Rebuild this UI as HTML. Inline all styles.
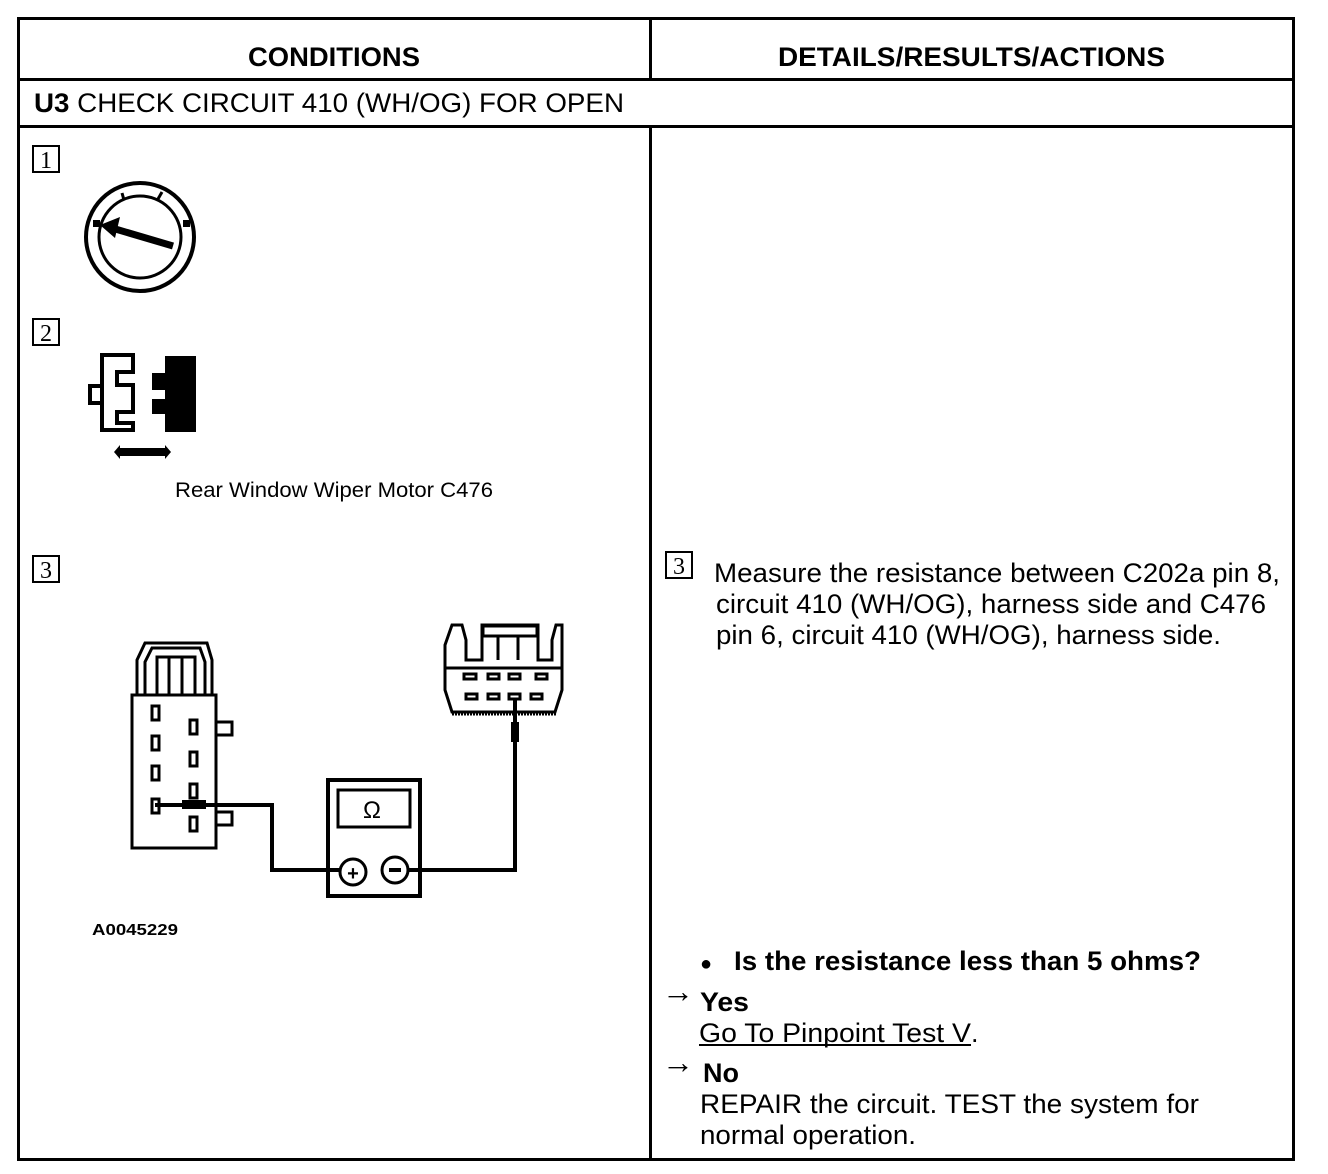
<!DOCTYPE html>
<html><head><meta charset="utf-8"><style>html,body{margin:0;padding:0;background:#fff}svg{display:block}</style></head>
<body>
<svg width="1328" height="1174" viewBox="0 0 1328 1174" xmlns="http://www.w3.org/2000/svg" font-family="Liberation Sans, Arial, sans-serif">
<rect width="1328" height="1174" fill="#fff"/>
<g stroke="#000" stroke-width="3" fill="none">
<rect x="18.5" y="18.5" width="1275" height="1141"/>
<line x1="18" y1="79.5" x2="1294" y2="79.5"/>
<line x1="18" y1="126.5" x2="1294" y2="126.5"/>
<line x1="650.5" y1="18" x2="650.5" y2="79"/>
<line x1="650.5" y1="126" x2="650.5" y2="1160"/>
</g>
<g font-size="27" fill="#000">
<text x="248" y="66" font-weight="bold" textLength="172" lengthAdjust="spacingAndGlyphs">CONDITIONS</text>
<text x="778" y="66" font-weight="bold" textLength="387" lengthAdjust="spacingAndGlyphs">DETAILS/RESULTS/ACTIONS</text>
<text x="34" y="112" textLength="590" lengthAdjust="spacingAndGlyphs"><tspan font-weight="bold">U3</tspan> CHECK CIRCUIT 410 (WH/OG) FOR OPEN</text>
<text x="714" y="582" textLength="566" lengthAdjust="spacingAndGlyphs">Measure the resistance between C202a pin 8,</text>
<text x="716" y="613" textLength="550" lengthAdjust="spacingAndGlyphs">circuit 410 (WH/OG), harness side and C476</text>
<text x="716" y="644" textLength="505" lengthAdjust="spacingAndGlyphs">pin 6, circuit 410 (WH/OG), harness side.</text>
<text x="700" y="970" font-size="20">●</text>
<text x="734" y="970" font-weight="bold" textLength="467" lengthAdjust="spacingAndGlyphs">Is the resistance less than 5 ohms?</text>
<text x="662" y="1002" font-size="32">→</text>
<text x="700" y="1011" font-weight="bold" textLength="49" lengthAdjust="spacingAndGlyphs">Yes</text>
<text x="699" y="1042" textLength="272" lengthAdjust="spacingAndGlyphs">Go To Pinpoint Test V</text>
<text x="971" y="1042">.</text>
<text x="662" y="1073" font-size="32">→</text>
<text x="703" y="1082" font-weight="bold" textLength="36" lengthAdjust="spacingAndGlyphs">No</text>
<text x="700" y="1113" textLength="499" lengthAdjust="spacingAndGlyphs">REPAIR the circuit. TEST the system for</text>
<text x="700" y="1144" textLength="216" lengthAdjust="spacingAndGlyphs">normal operation.</text>
<text x="175" y="497" font-size="21" textLength="318" lengthAdjust="spacingAndGlyphs">Rear Window Wiper Motor C476</text>
<text x="92" y="935" font-size="16" font-weight="bold" textLength="86" lengthAdjust="spacingAndGlyphs">A0045229</text>
</g>
<line x1="699" y1="1045" x2="971" y2="1045" stroke="#000" stroke-width="2"/>
<g stroke="#000" stroke-width="2" fill="none">
<rect x="33" y="146" width="26" height="26"/>
<rect x="33" y="319" width="26" height="26"/>
<rect x="33" y="556" width="26" height="26"/>
<rect x="666" y="552" width="26" height="26"/>
</g>
<g font-size="24" fill="#000" font-family="Liberation Serif, serif" text-anchor="middle">
<text x="46" y="168">1</text><text x="46" y="341">2</text><text x="46" y="578">3</text><text x="679" y="574">3</text>
</g>
<!-- ignition -->
<g stroke="#000" fill="none">
<circle cx="140" cy="237" r="54" stroke-width="4"/>
<circle cx="140" cy="237" r="41" stroke-width="3"/>
<line x1="173" y1="246" x2="112" y2="228" stroke-width="7"/>
<line x1="122" y1="193" x2="124" y2="200" stroke-width="3"/>
<line x1="162" y1="192" x2="158" y2="199" stroke-width="3"/>
</g>
<polygon points="100,225 120,217 115,238" fill="#000"/>
<rect x="93" y="220" width="7" height="7" fill="#000"/>
<rect x="183" y="220" width="7" height="7" fill="#000"/>
<!-- connector 2 -->
<g stroke="#000" stroke-width="4" fill="none">
<path d="M102,355 H133 V372 H117 V385 H133 V412 H117 V423 H133 V430 H102 Z"/>
<path d="M102,386 H90 V403 H102"/>
</g>
<path d="M165,356 H196 V432 H165 V414 H152 V399 H165 V390 H152 V373 H165 Z" fill="#000"/>
<path d="M114,452 L120,445 V459 Z M171,452 L165,445 V459 Z" fill="#000"/>
<rect x="120" y="448" width="45" height="8" fill="#000"/>
<!-- connector left -->
<g stroke="#000" stroke-width="3" fill="none">
<path d="M132,695 V848 H216 V695 Z"/>
<path d="M137,695 V660 L145,643 H207 L212,660 V695"/>
<path d="M145,695 V662 L152,648 H200 L205,662 V695"/>
<path d="M157,695 V657 H195 V695 M169,657 V695 M182,657 V695"/>
<rect x="152" y="706" width="7" height="14"/>
<rect x="152" y="736" width="7" height="14"/>
<rect x="152" y="766" width="7" height="14"/>
<rect x="152" y="799" width="7" height="14"/>
<rect x="190" y="720" width="7" height="14"/>
<rect x="190" y="752" width="7" height="14"/>
<rect x="190" y="784" width="7" height="14"/>
<rect x="190" y="817" width="7" height="14"/>
<rect x="216" y="722" width="16" height="13"/>
<rect x="216" y="812" width="16" height="13"/>
</g>
<!-- right connector -->
<g stroke="#000" stroke-width="3" fill="none">
<path d="M445,690 V645 L452,625 H462 L466,640 V660 H482 V625 H538 V660 H552 V640 L556,625 H562 V690 L555,712 H452 Z"/>
<rect x="483" y="626" width="54" height="10"/>
<line x1="498" y1="636" x2="498" y2="660"/><line x1="518" y1="636" x2="518" y2="660"/>
<line x1="446" y1="668" x2="562" y2="668"/>
<rect x="464" y="674" width="12" height="5"/><rect x="488" y="674" width="11" height="5"/><rect x="509" y="674" width="11" height="5"/><rect x="536" y="674" width="11" height="5"/>
<rect x="466" y="694" width="11" height="5"/><rect x="488" y="694" width="11" height="5"/><rect x="509" y="694" width="11" height="5"/><rect x="531" y="694" width="11" height="5"/>
</g>
<line x1="452" y1="714" x2="556" y2="714" stroke="#000" stroke-width="3" stroke-dasharray="2,1"/>
<g stroke="#000" fill="none">
<path d="M155,805 H272 V870 H340" stroke-width="4"/>
<path d="M408,870 H515 V700" stroke-width="4"/>
<rect x="328" y="780" width="92" height="116" stroke-width="4"/>
<rect x="338" y="790" width="72" height="37" stroke-width="3"/>
<circle cx="353" cy="872" r="13" stroke-width="3"/>
<circle cx="395" cy="870" r="13" stroke-width="3"/>
</g>
<rect x="511" y="722" width="8" height="20" fill="#000"/>
<rect x="182" y="800" width="24" height="9" fill="#000"/>
<text x="372" y="818" font-size="24" text-anchor="middle" fill="#000">Ω</text>
<text x="353" y="880" font-size="20" font-weight="bold" text-anchor="middle" fill="#000">+</text>
<rect x="389" y="868" width="12" height="4" fill="#000"/>
</svg>
</body></html>
